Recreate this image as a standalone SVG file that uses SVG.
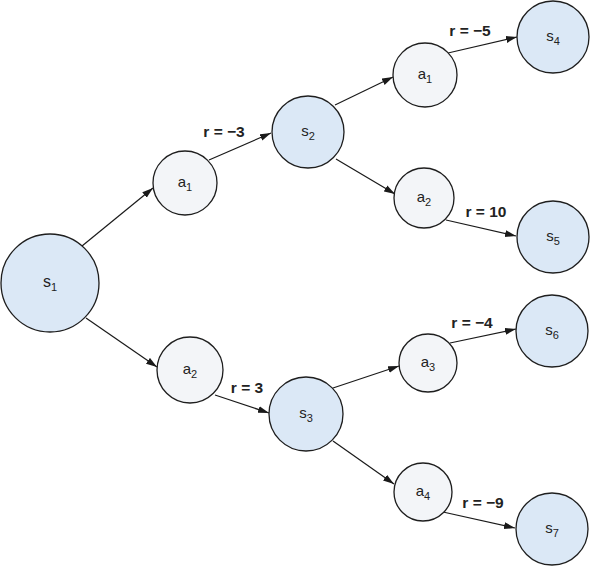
<svg xmlns="http://www.w3.org/2000/svg" width="590" height="566" viewBox="0 0 590 566">
<defs>
<marker id="arr" markerUnits="userSpaceOnUse" markerWidth="12" markerHeight="8" refX="11" refY="3.5" orient="auto">
<path d="M0,0 L11,3.5 L0,7 z" fill="#1a1a1a"/>
</marker>
</defs>
<style>
.st{fill:#dbe8f6;stroke:#1e1e1e;stroke-width:1.3}
.ac{fill:#f3f5f8;stroke:#1e1e1e;stroke-width:1.3}
.nl{font-family:"Liberation Sans",Arial,sans-serif;font-size:15px;fill:#222;text-anchor:middle}
.sb{font-size:11px}
.el{stroke:#1a1a1a;stroke-width:1.2;fill:none;marker-end:url(#arr)}
.rl{font-family:"Liberation Sans",Arial,sans-serif;font-size:15.5px;font-weight:bold;fill:#222;text-anchor:middle}
</style>
<rect width="590" height="566" fill="#ffffff"/>
<g id="connectors">
<line class="el" x1="82" y1="246" x2="153" y2="188"/>
<line class="el" x1="209" y1="160" x2="271" y2="133"/>
<line class="el" x1="86" y1="318" x2="157" y2="367"/>
<line class="el" x1="215" y1="395" x2="269" y2="413"/>
<line class="el" x1="335" y1="105" x2="393" y2="77"/>
<line class="el" x1="448" y1="53" x2="517" y2="37"/>
<line class="el" x1="336" y1="159" x2="395" y2="194"/>
<line class="el" x1="446" y1="220" x2="516" y2="236"/>
<line class="el" x1="333" y1="388" x2="399" y2="366"/>
<line class="el" x1="450" y1="343" x2="516" y2="329"/>
<line class="el" x1="333" y1="441" x2="394" y2="484"/>
<line class="el" x1="443" y1="512" x2="515" y2="528"/>
<text class="rl" x="224" y="137">r = −3</text>
<text class="rl" x="247" y="393">r = 3</text>
<text class="rl" x="470" y="36">r = −5</text>
<text class="rl" x="486" y="217">r = 10</text>
<text class="rl" x="472" y="328">r = −4</text>
<text class="rl" x="483" y="508">r = −9</text>
</g>
<g id="s1"><circle class="st" cx="50" cy="283" r="49"/><text class="nl" x="50" y="287" style="font-size:16px">s<tspan class="sb" dy="4">1</tspan></text></g>
<g id="a1"><circle class="ac" cx="185" cy="183" r="32"/><text class="nl" x="185" y="187">a<tspan class="sb" dy="4">1</tspan></text></g>
<g id="a2"><circle class="ac" cx="190" cy="370" r="33"/><text class="nl" x="190" y="374">a<tspan class="sb" dy="4">2</tspan></text></g>
<g id="s2"><circle class="st" cx="308" cy="132" r="36"/><text class="nl" x="308" y="136">s<tspan class="sb" dy="4">2</tspan></text></g>
<g id="s3"><circle class="st" cx="306" cy="414" r="37"/><text class="nl" x="306" y="418">s<tspan class="sb" dy="4">3</tspan></text></g>
<g id="a1b"><circle class="ac" cx="425" cy="75" r="32"/><text class="nl" x="425" y="79">a<tspan class="sb" dy="4">1</tspan></text></g>
<g id="a2b"><circle class="ac" cx="424" cy="198" r="30"/><text class="nl" x="424" y="202">a<tspan class="sb" dy="4">2</tspan></text></g>
<g id="a3"><circle class="ac" cx="428" cy="363" r="29"/><text class="nl" x="428" y="367">a<tspan class="sb" dy="4">3</tspan></text></g>
<g id="a4"><circle class="ac" cx="423" cy="492" r="29"/><text class="nl" x="423" y="496">a<tspan class="sb" dy="4">4</tspan></text></g>
<g id="s4"><circle class="st" cx="553" cy="37" r="36"/><text class="nl" x="553" y="41">s<tspan class="sb" dy="4">4</tspan></text></g>
<g id="s5"><circle class="st" cx="553" cy="237" r="36"/><text class="nl" x="553" y="241">s<tspan class="sb" dy="4">5</tspan></text></g>
<g id="s6"><circle class="st" cx="552" cy="331" r="36"/><text class="nl" x="552" y="335">s<tspan class="sb" dy="4">6</tspan></text></g>
<g id="s7"><circle class="st" cx="552" cy="529" r="36"/><text class="nl" x="552" y="533">s<tspan class="sb" dy="4">7</tspan></text></g>
</svg>
